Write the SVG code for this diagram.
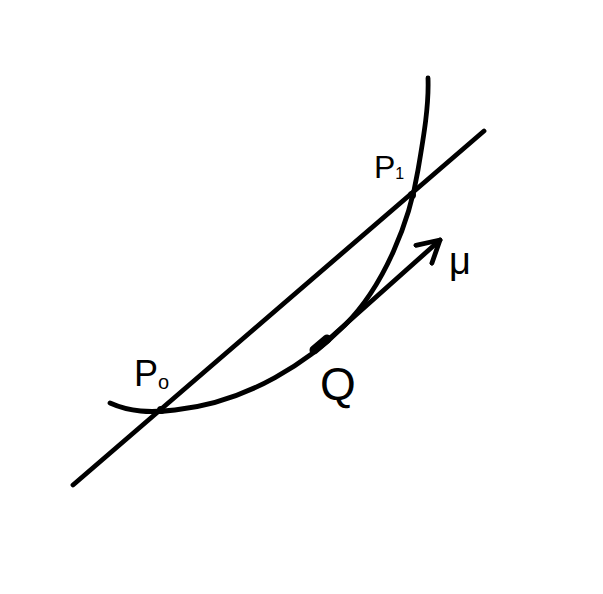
<svg xmlns="http://www.w3.org/2000/svg" width="603" height="594" viewBox="0 0 603 594">
<style>
.ln{fill:none;stroke:#000;stroke-width:4.8;stroke-linecap:round;stroke-linejoin:round}
.lbl{font-family:"Liberation Sans",Arial,sans-serif;fill:#000}
</style>
<defs>
<marker id="ah" viewBox="0 0 12 12" refX="10" refY="6" markerWidth="6" markerHeight="6" orient="auto" markerUnits="strokeWidth">
<path d="M1,1 L10,6 L1,11" fill="none" stroke="#000" stroke-width="2" stroke-linecap="round" stroke-linejoin="round"/>
</marker>
</defs>
<rect width="603" height="594" fill="#fff"/>
<g id="connectors">
<path id="secant" class="ln" d="M73,485 L484,131"/>
<path id="curve" class="ln" d="M110,403 C130,412 150,413 175,410 C250,402 310,360 345,325 C385,285 410,220 418,170 C424,135 429,105 428,78"/>
<path id="tangent" class="ln" marker-end="url(#ah)" d="M320,347 L440,240"/>
</g>
<g id="P0">
<circle cx="161" cy="410" r="4"/>
<text class="lbl" x="134" y="386" font-size="36">P<tspan font-size="20" dy="3">o</tspan></text>
</g>
<g id="Q">
<path d="M314,350 L327,339" stroke="#000" stroke-width="9" stroke-linecap="round"/>
<text class="lbl" x="320" y="400" font-size="46">Q</text>
</g>
<g id="P1">
<circle cx="412" cy="195" r="4"/>
<text class="lbl" x="374" y="178" font-size="32">P<tspan font-size="16" dy="1">1</tspan></text>
</g>
<g id="mu">
<text class="lbl" x="449" y="274" font-size="38">μ</text>
</g>
</svg>
